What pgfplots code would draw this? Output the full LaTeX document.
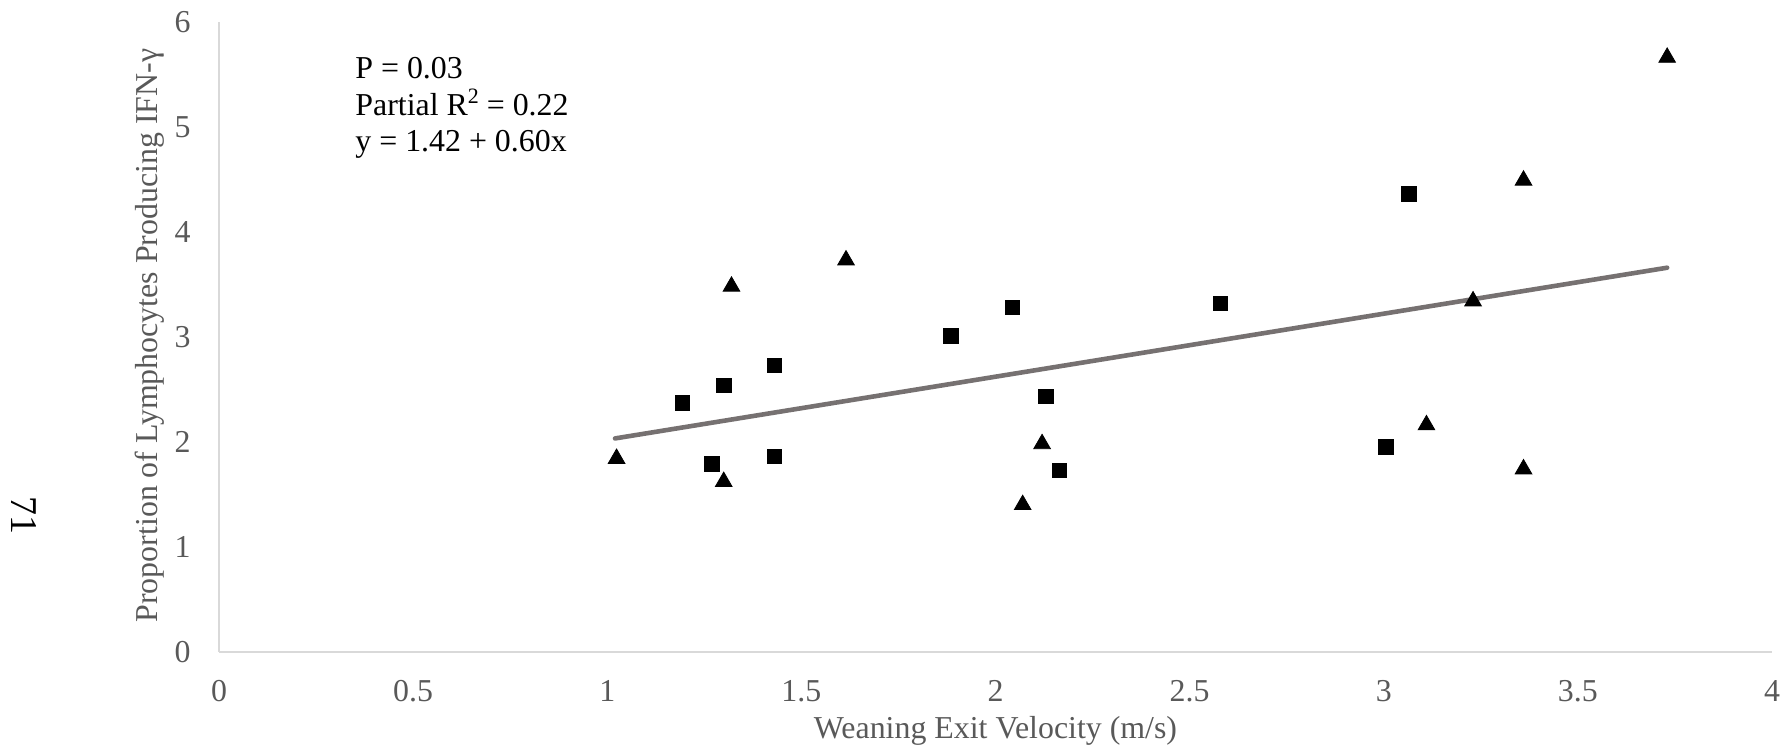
\documentclass[border=0pt]{standalone}
\usepackage{fontspec}
\setmainfont{Liberation Serif}
\usepackage{pgfplots}
\pgfplotsset{compat=1.18}
\definecolor{tickgray}{HTML}{595959}
\definecolor{axisgray}{HTML}{D9D9D9}
\definecolor{trendgray}{HTML}{767171}
\begin{document}
\begin{tikzpicture}
\begin{axis}[
  at={(0,0)}, anchor=south west,
  scale only axis,
  width=776.5bp, height=315bp,
  xmin=0, xmax=4, ymin=0, ymax=6,
  xtick={0,0.5,...,4}, ytick={0,1,...,6},
  axis x line*=bottom, axis y line*=left,
  axis line style={draw=axisgray, line width=0.8bp},
  major tick length=0pt,
  /pgf/number format/assume math mode=true,
  ticklabel style={font=\fontsize{16}{16}\selectfont, text=tickgray, inner sep=0pt},
  xticklabel style={anchor=center, yshift=-19.5bp},
  yticklabel style={anchor=east, xshift=-14bp},
  xlabel={Weaning Exit Velocity (m/s)},
  ylabel={Proportion of Lymphocytes Producing IFN-γ},
  xlabel style={at={(axis description cs:0.5,-0.1254)}, anchor=center, font=\fontsize{16}{16}\selectfont, text=tickgray, inner sep=0pt},
  ylabel style={at={(axis description cs:-0.0444,0.502)}, anchor=center, rotate=0, font=\fontsize{16}{16}\selectfont, text=tickgray, inner sep=0pt},
  clip=false,
]
% trend line
\addplot[draw=trendgray, line width=2.3bp, line cap=round, mark=none] coordinates {(1.02,2.032) (3.73,3.658)};
% triangles
\addplot[only marks, mark=triangle*, mark size=4.8bp, color=black] coordinates {
(1.024,1.84) (1.30,1.62) (1.32,3.48) (1.615,3.73) (2.07,1.40) (2.12,1.98)
(3.11,2.16) (3.23,3.34) (3.36,1.74) (3.36,4.49) (3.73,5.66)};
% squares
\addplot[only marks, mark=square*, mark size=3.6bp, color=black] coordinates {
(1.194,2.37) (1.27,1.79) (1.30,2.54) (1.43,2.73) (1.43,1.86) (1.885,3.01)
(2.044,3.28) (2.13,2.43) (2.165,1.73) (2.58,3.32) (3.006,1.95) (3.065,4.36)};
\node[anchor=north west, align=left, inner sep=0pt, font=\fontsize{16}{18.3}\selectfont, text=black] at (axis description cs:0.0876,0.944) {P = 0.03\\Partial R\raisebox{0.38em}{\fontsize{11}{11}\selectfont 2} = 0.22\\y = 1.42 + 0.60x};
\node[rotate=-90, inner sep=0pt, font=\fontsize{19}{19}\selectfont, text=black] at (axis description cs:-0.1256,0.2159) {71};
\end{axis}
\pgfresetboundingbox
\path (-109.5bp,-50bp) rectangle (785.5bp,325.9bp);
\end{tikzpicture}
\end{document}
